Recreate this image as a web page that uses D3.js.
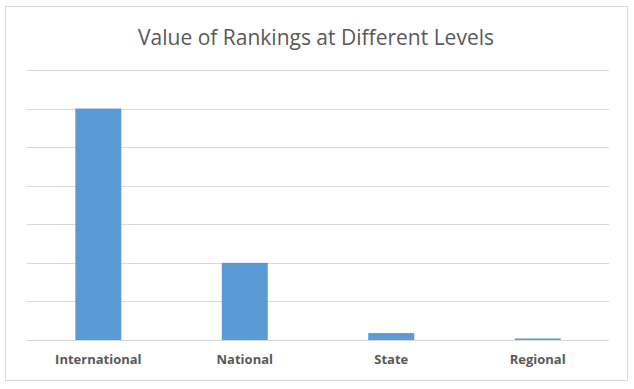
<!DOCTYPE html>
<html>
<head>
<meta charset="utf-8">
<script src="https://cdn.jsdelivr.net/npm/d3@7"></script>
<style>
  body { margin: 0; background: #fff; }
  svg { display: block; font-family: "Open Sans", "Noto Sans", sans-serif; }
</style>
</head>
<body>
<svg id="chart" width="634" height="389"></svg>
<script>
// Chart data
const categories = ["International", "National", "State", "Regional"];
const values = [30, 10, 0.9, 0.2];
const yTicks = [0, 5, 10, 15, 20, 25, 30, 35];
const title = "Value of Rankings at Different Levels";

const svg = d3.select("#chart");
const margin = { top: 70, right: 25, bottom: 49, left: 27 };
const width = 634 - margin.left - margin.right;
const height = 389 - margin.top - margin.bottom;

// Outer frame
svg.append("rect")
    .attr("x", 5.5).attr("y", 6.5)
    .attr("width", 622).attr("height", 374)
    .attr("fill", "#fff")
    .attr("stroke", "#d9d9d9");

svg.append("text")
    .attr("x", 316).attr("y", 45)
    .attr("text-anchor", "middle")
    .attr("font-size", 21)
    .attr("fill", "#595959")
    .text(title);

const g = svg.append("g").attr("transform", `translate(${margin.left},${margin.top})`);

const x = d3.scaleBand().domain(categories).range([0, width]).paddingInner(0.686).paddingOuter(0.33);
const y = d3.scaleLinear().domain([0, 35]).range([height, 0]);

// Gridlines
g.selectAll("line.grid")
    .data(yTicks)
    .enter()
    .append("line")
    .attr("class", "grid")
    .attr("x1", 0).attr("x2", width)
    .attr("y1", d => Math.round(y(d)) + 0.5)
    .attr("y2", d => Math.round(y(d)) + 0.5)
    .attr("stroke", "#d9d9d9")
    .attr("stroke-width", 1);

// Bars
g.selectAll("rect.bar")
    .data(values)
    .enter()
    .append("rect")
    .attr("class", "bar")
    .attr("x", (d, i) => x(categories[i]))
    .attr("y", d => y(d))
    .attr("width", x.bandwidth())
    .attr("height", d => y(0) - y(d))
    .attr("fill", "#5b9bd5");

// Category labels
const xAxis = g.append("g")
    .attr("transform", `translate(0,${height})`)
    .call(d3.axisBottom(x).tickSize(0).tickPadding(15));
xAxis.select(".domain").remove();
xAxis.selectAll("text")
    .attr("font-size", 13)
    .attr("font-weight", "bold")
    .attr("font-family", "\"Open Sans\", sans-serif")
    .attr("fill", "#595959");
</script>
</body>
</html>
